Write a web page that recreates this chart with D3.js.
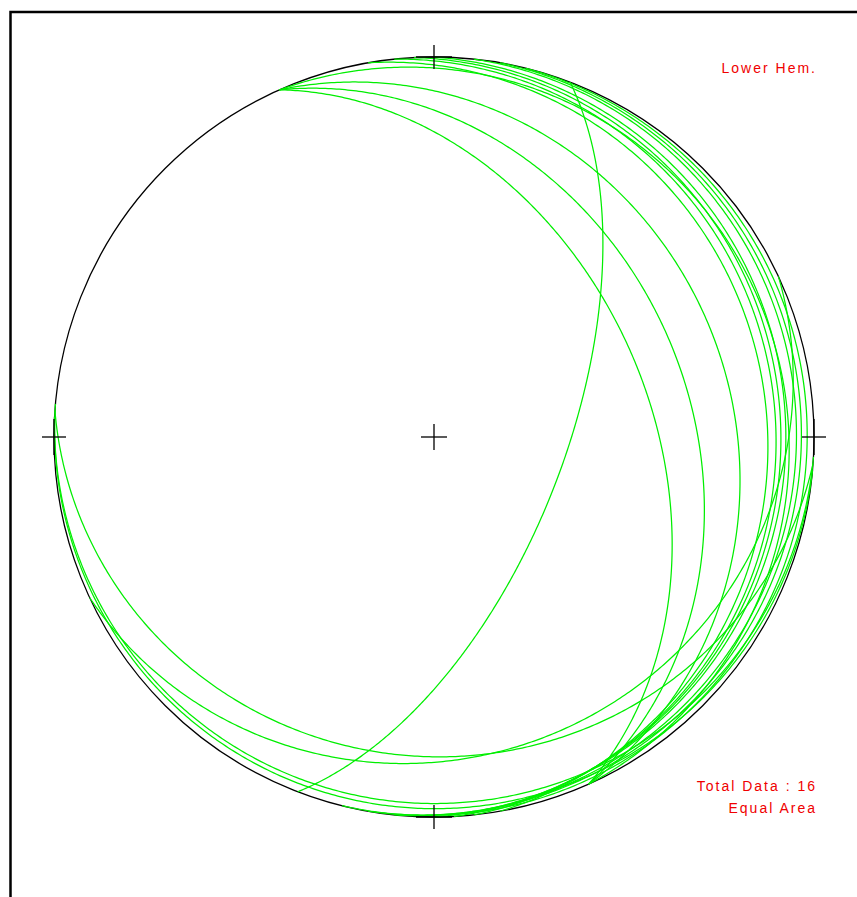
<!DOCTYPE html>
<html>
<head>
<meta charset="utf-8">
<script src="https://cdn.jsdelivr.net/npm/d3@7"></script>
<style>
  body { margin: 0; background: #fff; }
  text { font-family: "Liberation Sans", Arial, sans-serif; }
</style>
</head>
<body>
<script>
var dipDirs = [66, 66, 66, 66, 111, 80, 84, 87, 90, 96, 100, 104, 184, 155, 183, 185];
var dips    = [43, 33.5, 23, 8, 62, 13.4, 11, 9.6, 8.2, 5.2, 3.8, 2.1, 17, 17, 4, 2.5];
var labels  = ["Lower Hem.", "Total Data : 16", "Equal Area"];

var width = 857, height = 897;
var cx = 434, cy = 437, R = 380;

var svg = d3.select("body").append("svg")
    .attr("width", width)
    .attr("height", height);

// frame
svg.append("rect")
    .attr("x", 10.5)
    .attr("y", 12)
    .attr("width", 900)
    .attr("height", 900)
    .attr("fill", "none")
    .attr("stroke", "#000")
    .attr("stroke-width", 2.5);

// unit net coords -> pixels
var x = d3.scaleLinear().domain([-1, 1]).range([cx - R, cx + R]);
var y = d3.scaleLinear().domain([-1, 1]).range([cy + R, cy - R]);

var rad = Math.PI / 180;

// equal area, lower hemisphere
function project(trend, plunge) {
    var r = Math.SQRT2 * Math.sin((90 - plunge) / 2 * rad);
    return [r * Math.sin(trend * rad), r * Math.cos(trend * rad)];
}

function greatCircle(dd, dip) {
    var s = (dd - 90) * rad, d = dd * rad, p = dip * rad;
    return d3.range(0, 180.5, 0.5).map(function(t){
        var a = t * rad;
        var n = Math.cos(a) * Math.cos(s) + Math.sin(a) * Math.cos(d) * Math.cos(p);
        var e = Math.cos(a) * Math.sin(s) + Math.sin(a) * Math.sin(d) * Math.cos(p);
        var z = Math.sin(a) * Math.sin(p);
        var trend = Math.atan2(e, n) / rad;
        var plunge = Math.asin(Math.max(-1, Math.min(1, z))) / rad;
        return project(trend, plunge);
    });
}

var line = d3.line()
    .x(function(d){ return x(d[0]); })
    .y(function(d){ return y(d[1]); });

// primitive
svg.append("circle")
    .attr("cx", x(0))
    .attr("cy", y(0))
    .attr("r", x(1) - x(0))
    .attr("fill", "none")
    .attr("stroke", "#000")
    .attr("stroke-width", 1.3);

// great circles
svg.selectAll("path.gc")
    .data(d3.range(dipDirs.length))
    .enter().append("path")
    .attr("class", "gc")
    .attr("d", function(i){ return line(greatCircle(dipDirs[i], dips[i])); })
    .attr("fill", "none")
    .attr("stroke", "#00ee00")
    .attr("stroke-width", 1.25);

// crosses: [x, y, half width, half height]
var marks = [[0, 0, 13, 13], [0, 1, 18, 12], [0, -1, 18, 12], [1, 0, 12, 18], [-1, 0, 12, 18]];
marks.forEach(function(m){
    svg.append("line")
        .attr("x1", x(m[0]) - m[2]).attr("x2", x(m[0]) + m[2])
        .attr("y1", y(m[1])).attr("y2", y(m[1]))
        .attr("stroke", "#000").attr("stroke-width", 1.3);
    svg.append("line")
        .attr("x1", x(m[0])).attr("x2", x(m[0]))
        .attr("y1", y(m[1]) - m[3]).attr("y2", y(m[1]) + m[3])
        .attr("stroke", "#000").attr("stroke-width", 1.3);
});

// labels
var labelY = [73, 791, 813];
svg.selectAll("text.lab")
    .data(labels)
    .enter().append("text")
    .attr("class", "lab")
    .attr("x", 817)
    .attr("y", function(d, i){ return labelY[i]; })
    .attr("text-anchor", "end")
    .attr("font-size", 14)
    .attr("letter-spacing", 2)
    .attr("fill", "#f00000")
    .text(function(d){ return d; });
</script>
</body>
</html>
